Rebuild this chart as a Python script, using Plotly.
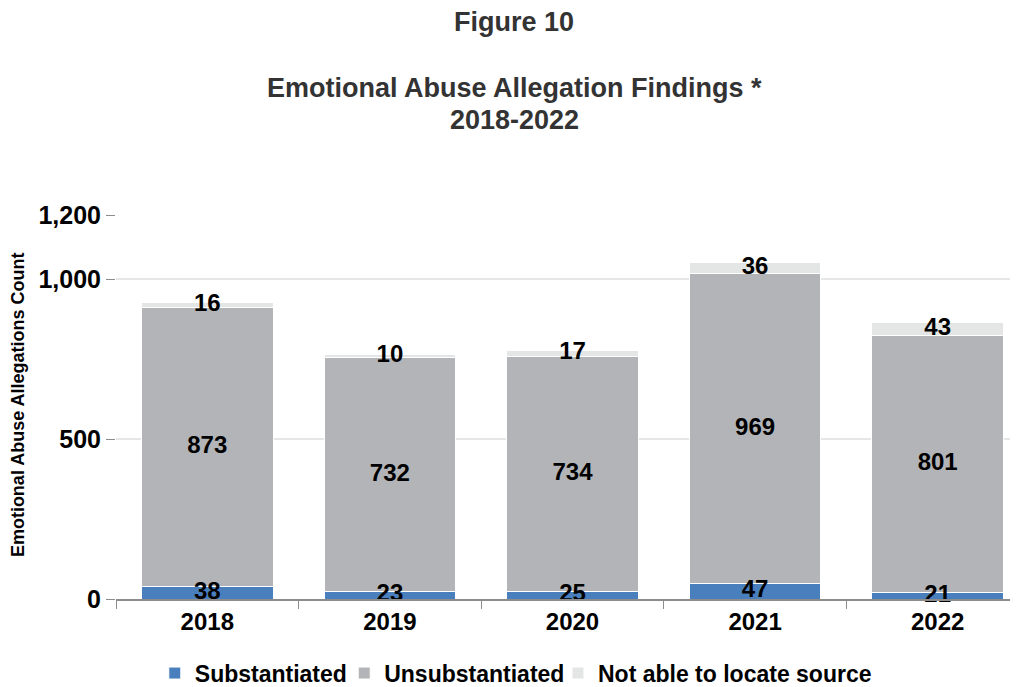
import plotly.graph_objects as go

years = ["2018", "2019", "2020", "2021", "2022"]
substantiated = [38, 23, 25, 47, 21]
unsubstantiated = [873, 732, 734, 969, 801]
not_located = [16, 10, 17, 36, 43]
series_names = ["Substantiated", "Unsubstantiated", "Not able to locate source"]
colors = ["#4a7fbd", "#b2b4b7", "#e4e5e5"]
y_ticks = [0, 500, 1000, 1200]
y_tick_labels = ["0", "500", "1,000", "1,200"]

FONT = "Liberation Sans, Arial, sans-serif"
series = [substantiated, unsubstantiated, not_located]
legend_ids = ["legend", "legend2", "legend3"]
legend_x = [0.043, 0.253, 0.490]

fig = go.Figure()
for name, vals, col, lid in zip(series_names, series, colors, legend_ids):
    fig.add_trace(go.Bar(
        x=years, y=vals, name=name, legend=lid,
        marker=dict(color=col, line=dict(color="white", width=1)),
        hoverinfo="x+y+name",
    ))

# data labels centered on each segment
base = [0] * len(years)
for vals in series:
    mids = [b + v / 2 for b, v in zip(base, vals)]
    fig.add_trace(go.Scatter(
        x=years, y=mids, mode="text", text=[str(v) for v in vals],
        textposition="middle center",
        textfont=dict(family=FONT, size=24, color="#000000", weight="bold"),
        showlegend=False, hoverinfo="skip", cliponaxis=False,
    ))
    base = [b + v for b, v in zip(base, vals)]

legend_font = dict(family=FONT, size=23, color="#000000", weight="bold")
legend_layout = {}
for lid, lx in zip(legend_ids, legend_x):
    legend_layout[lid] = dict(orientation="h", x=lx, xanchor="left", y=-0.193, yanchor="middle",
                              font=legend_font, itemwidth=30, bgcolor="rgba(0,0,0,0)")

fig.update_layout(
    width=1010, height=679,
    margin=dict(l=108, r=0, t=207, b=88, autoexpand=False),
    barmode="stack", bargap=0.28,
    plot_bgcolor="white", paper_bgcolor="white",
    font=dict(family=FONT, color="#000000"),
    showlegend=True,
    xaxis=dict(
        type="category", range=[-0.5, 4.44], automargin=False,
        showline=True, linecolor="#8c8c8c", linewidth=1.5,
        ticks="outside", tickson="boundaries", ticklen=8, tickcolor="#8c8c8c",
        tickfont=dict(family=FONT, size=24, color="#000000", weight="bold"),
        showgrid=False,
    ),
    yaxis=dict(
        range=[0, 1200], tickvals=y_ticks, ticktext=y_tick_labels, automargin=False,
        showgrid=True, gridcolor="#e6e6e6", gridwidth=1.5,
        zeroline=False, showline=False,
        ticks="outside", ticklen=9, tickcolor="#8c8c8c",
        tickfont=dict(family=FONT, size=25, color="#000000", weight="bold"),
    ),
    annotations=[
        dict(text="<b>Figure 10</b>", xref="paper", yref="paper", x=0.4417, y=1.5026,
             xanchor="center", yanchor="middle", showarrow=False,
             font=dict(family=FONT, size=27, color="#333333")),
        dict(text="<b>Emotional Abuse Allegation Findings *</b>", xref="paper", yref="paper",
             x=0.4417, y=1.3307, xanchor="center", yanchor="middle", showarrow=False,
             font=dict(family=FONT, size=27, color="#333333")),
        dict(text="<b>2018-2022</b>", xref="paper", yref="paper", x=0.4417, y=1.247,
             xanchor="center", yanchor="middle", showarrow=False,
             font=dict(family=FONT, size=27, color="#333333")),
        dict(text="<b>Emotional Abuse Allegations Count</b>", xref="paper", yref="paper",
             x=-0.1086, y=0.505, xanchor="center", yanchor="middle", textangle=-90,
             showarrow=False, font=dict(family=FONT, size=18, color="#000000")),
    ],
    **legend_layout,
)

fig.write_html("out.html")
